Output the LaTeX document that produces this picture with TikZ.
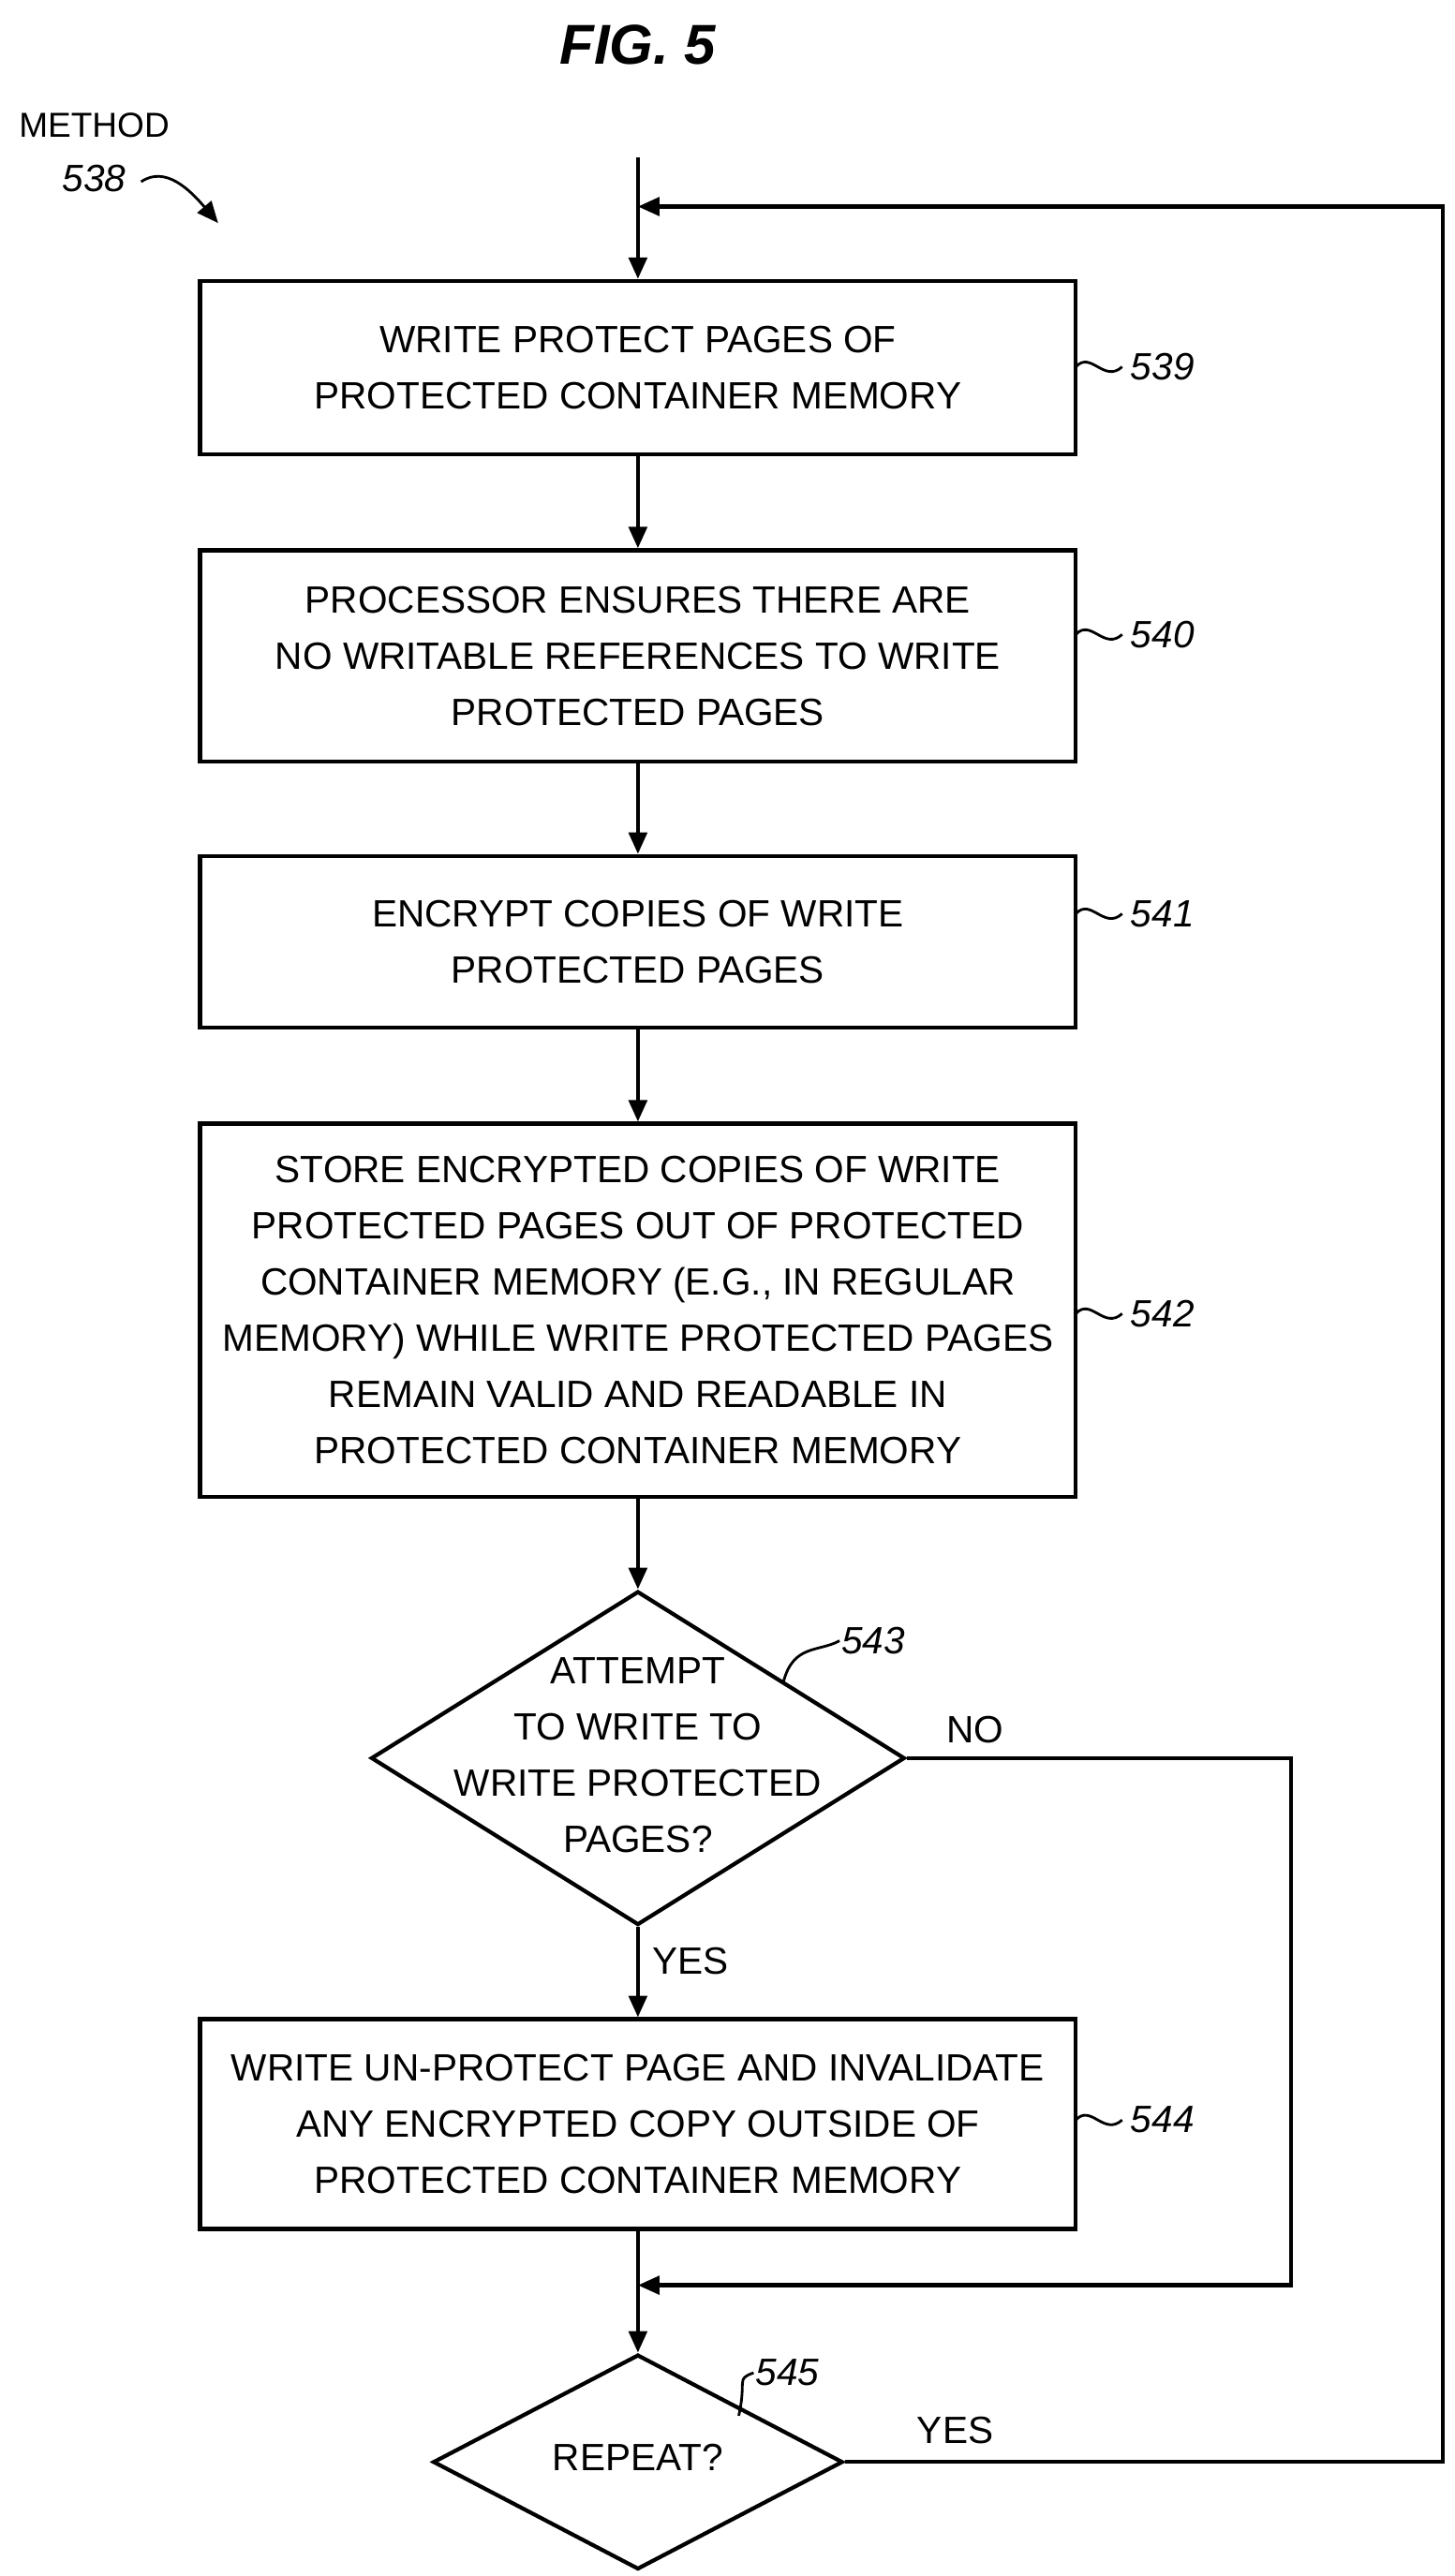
\documentclass[tikz,border=0pt]{standalone}
\usepackage{fontspec}
\setmainfont{Liberation Sans}
\usetikzlibrary{arrows.meta,shapes.geometric}
\begin{document}
\begin{tikzpicture}[x=1pt,y=-1pt,
  line width=2.4pt,
  txt/.style={font=\fontsize{23}{34}\selectfont,align=center,inner sep=0},
  box/.style={draw,minimum width=530pt,txt},
  ref/.style={font=\fontsize{23}{28}\selectfont\itshape,inner sep=0,anchor=west},
  arr/.style={-{Triangle[length=13pt,width=11pt]}}]
\useasboundingbox (0,0) rectangle (880,1559);
\node[font=\fontsize{34}{40}\selectfont\bfseries\itshape] (title) at (386,27) {FIG. 5};
\node[font=\fontsize{21}{26}\selectfont,inner sep=0] (meth) at (57,76) {METHOD};
\node[font=\fontsize{23}{26}\selectfont\itshape,inner sep=0] (m538) at (57,108) {538};
\coordinate (mend) at (132,135);
\draw[arr,line width=1.6pt] (m538.east) ++(8,2) .. controls (100,100) and (115,115) .. (mend);

\node[box,minimum height=105pt] (b539) at (386,222.5) {WRITE PROTECT PAGES OF\\PROTECTED CONTAINER MEMORY};
\node[box,minimum height=128pt] (b540) at (386,397) {PROCESSOR ENSURES THERE ARE\\NO WRITABLE REFERENCES TO WRITE\\PROTECTED PAGES};
\node[box,minimum height=104pt] (b541) at (386,570) {ENCRYPT COPIES OF WRITE\\PROTECTED PAGES};
\node[box,minimum height=226pt] (b542) at (386,793) {STORE ENCRYPTED COPIES OF WRITE\\PROTECTED PAGES OUT OF PROTECTED\\CONTAINER MEMORY (E.G., IN REGULAR\\MEMORY) WHILE WRITE PROTECTED PAGES\\REMAIN VALID AND READABLE IN\\PROTECTED CONTAINER MEMORY};
\node[draw,diamond,txt,minimum width=323pt,minimum height=202pt,aspect=1.6] (d543) at (386,1064) {};
\node[txt] (t543) at (386,1062) {ATTEMPT\\TO WRITE TO\\WRITE PROTECTED\\PAGES?};
\node[box,minimum height=127pt] (b544) at (386,1285.5) {WRITE UN-PROTECT PAGE AND INVALIDATE\\ANY ENCRYPTED COPY OUTSIDE OF\\PROTECTED CONTAINER MEMORY};
\node[draw,diamond,txt,minimum width=248pt,minimum height=130pt,aspect=1.9] (d545) at (386,1490) {};
\node[txt] (t545) at (386,1487) {REPEAT?};

\coordinate (start) at (386,95);
\coordinate (loopin) at (386,125);
\coordinate (rr) at (873,1490);
\coordinate (rt) at (873,125);
\coordinate (nr) at (781,1064);
\coordinate (nb) at (781,1383);
\coordinate (join) at (386,1383);

\draw[arr] (start) -- (b539);
\draw[arr] (b539) -- (b540);
\draw[arr] (b540) -- (b541);
\draw[arr] (b541) -- (b542);
\draw[arr] (b542) -- (d543);
\draw[arr] (d543) -- (b544);
\draw[arr] (b544) -- (d545);
\draw[arr] (d543.east) -- (nr) -- (nb) -- (join);
\draw[arr] (d545.east) -- (rr) -- (rt) -- (loopin);

\node[txt] (no) at (590,1047) {NO};
\node[txt] (yes1) at (418,1187) {YES};
\node[txt] (yes2) at (578,1471) {YES};

\foreach \n/\y in {539/222,540/384,541/553,542/795,544/1283}{
  \node[ref] (r\n) at (683,\y) {\n};
  \draw[line width=1.6pt] (651,\y) .. controls (660,\y-10) and (668,\y+10) .. (679,\y);
}
\node[ref] (r543) at (508,993) {543};
\draw[line width=1.6pt] (474,1018) .. controls (480,995) and (495,1000) .. (r543.west);
\node[ref] (r545) at (456,1436) {545};
\draw[line width=1.6pt] (447,1462) .. controls (452,1440) and (445,1440) .. (r545.west);
\end{tikzpicture}
\end{document}
